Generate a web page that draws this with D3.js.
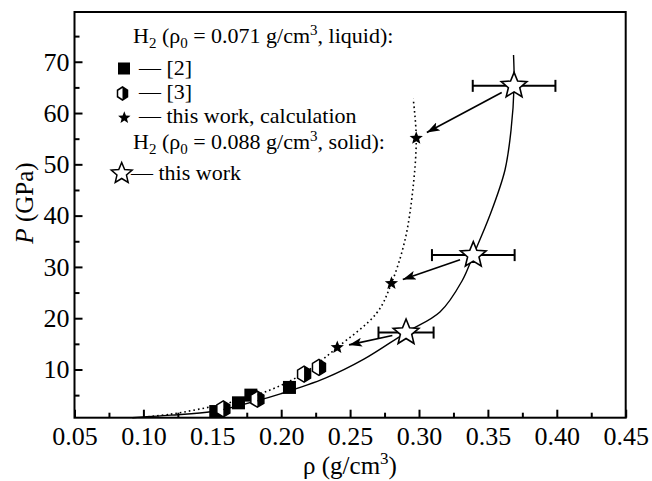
<!DOCTYPE html>
<html><head><meta charset="utf-8">
<script src="https://cdn.jsdelivr.net/npm/d3@7/dist/d3.min.js"></script>
<style>
body{margin:0;background:#fff}
svg{display:block}
text{font-family:"Liberation Serif","Times New Roman",Times,serif;fill:#000}
</style>
</head><body>
<svg id="c" width="652" height="481"></svg>
<script>
// ---- data ----
const xMajorTicks = [0.05, 0.10, 0.15, 0.20, 0.25, 0.30, 0.35, 0.40, 0.45];
const xMinorTicks = [0.075, 0.125, 0.175, 0.225, 0.275, 0.325, 0.375, 0.425];
const yMajorTicks = [10, 20, 30, 40, 50, 60, 70];
const yMinorTicks = [5, 15, 25, 35, 45, 55, 65, 75];

const ref2Rho = [0.1525, 0.169, 0.178, 0.206];
const ref2P   = [1.8, 3.5, 5.0, 6.5];
const ref3Rho = [0.158, 0.1827, 0.2166, 0.2274];
const ref3P   = [2.3, 4.2, 9.1, 10.4];
const calcRho = [0.2407, 0.280, 0.298];
const calcP   = [14.3, 26.8, 55.1];
const solidRho = [0.2906, 0.3394, 0.369];
const solidP   = [17.2, 32.3, 65.3];
const solidErr = [0.02, 0.03, 0.03];

const solidCurveRho = [0.092, 0.10, 0.12, 0.15, 0.17, 0.20, 0.232, 0.26, 0.2906, 0.3152, 0.3312, 0.3394, 0.3515, 0.3624, 0.3668, 0.369, 0.3686];
const solidCurveP   = [0.6, 0.75, 1.1, 1.8, 3.0, 5.3, 8.3, 12.0, 17.2, 21.2, 27.25, 32.3, 40.1, 48.9, 56.7, 65.3, 71.3];
const liquidCurveRho = [0.10, 0.12, 0.141, 0.165, 0.1919, 0.2166, 0.2407, 0.2693, 0.280, 0.2898, 0.2955, 0.298, 0.2958];
const liquidCurveP   = [0.7, 1.3, 2.3, 3.7, 6.0, 9.3, 14.3, 21.0, 26.8, 35.2, 45.0, 55.1, 62.8];

// ---- layout ----
const FONT = '"Liberation Serif","Times New Roman",Times,serif';
const svg = d3.select("#c");
const L = 74.5, R = 625.7, T = 12, B = 417.7;
const x = d3.scaleLinear().domain([0.05, 0.45]).range([L, R]);
const y = d3.scaleLinear().domain([0.6, 79.7]).range([B, T]);

svg.append("defs").append("marker")
  .attr("id", "ah").attr("viewBox", "0 0 13 9").attr("refX", 13).attr("refY", 4.5)
  .attr("markerWidth", 13).attr("markerHeight", 9).attr("markerUnits", "userSpaceOnUse")
  .attr("orient", "auto")
  .append("path").attr("d", "M0,0 L13,4.5 L0,9 L3,4.5 Z").attr("fill", "#000");

// axes
const xAx = svg.append("g").attr("transform", `translate(0,${B})`)
  .call(d3.axisBottom(x).tickValues(xMajorTicks).tickFormat(d3.format(".2f")).tickSize(-8).tickPadding(8.5));
const xAxMin = svg.append("g").attr("transform", `translate(0,${B})`)
  .call(d3.axisBottom(x).tickValues(xMinorTicks).tickFormat("").tickSize(-5));
const yAx = svg.append("g").attr("transform", `translate(${L},0)`)
  .call(d3.axisLeft(y).tickValues(yMajorTicks).tickFormat(d3.format("d")).tickSize(-8).tickPadding(5));
const yAxMin = svg.append("g").attr("transform", `translate(${L},0)`)
  .call(d3.axisLeft(y).tickValues(yMinorTicks).tickFormat("").tickSize(-5));
[xAx, xAxMin, yAx, yAxMin].forEach(g => {
  g.attr("font-family", FONT);
  g.select(".domain").remove();
  g.selectAll(".tick line").attr("stroke", "#000").attr("stroke-width", 2);
  g.selectAll("text").style("font-family", FONT).style("font-size", "26px").attr("fill", "#000");
});

// frame
svg.append("rect").attr("x", L).attr("y", T).attr("width", R - L).attr("height", B - T)
  .attr("fill", "none").attr("stroke", "#000").attr("stroke-width", 2);

// curves
const line = d3.line().x(d => x(d[0])).y(d => y(d[1])).curve(d3.curveCatmullRom.alpha(0.5));
svg.append("path").datum(solidCurveRho.map((r, i) => [r, solidCurveP[i]]))
  .attr("d", line).attr("fill", "none").attr("stroke", "#000").attr("stroke-width", 1.4);
svg.append("path").datum(liquidCurveRho.map((r, i) => [r, liquidCurveP[i]]))
  .attr("d", line).attr("fill", "none").attr("stroke", "#000").attr("stroke-width", 1.6)
  .attr("stroke-dasharray", "1.6,3").attr("stroke-linecap", "butt");

// symbols
function starPath(cx, cy, Ro, Ri) {
  const p = [];
  for (let k = 0; k < 10; k++) {
    const a = -Math.PI / 2 + k * Math.PI / 5, rr = k % 2 ? Ri : Ro;
    p.push([cx + rr * Math.cos(a), cy + rr * Math.sin(a)]);
  }
  return "M" + p.map(q => q.join(",")).join("L") + "Z";
}
function hexHalf(g, cx, cy, rx, ry) {
  const top = [cx, cy - ry], bot = [cx, cy + ry];
  const ul = [cx - rx, cy - ry / 2], ll = [cx - rx, cy + ry / 2];
  const ur = [cx + rx, cy - ry / 2], lr = [cx + rx, cy + ry / 2];
  const P = a => "M" + a.map(q => q.join(",")).join("L") + "Z";
  g.append("path").attr("d", P([top, ul, ll, bot])).attr("fill", "#fff");
  g.append("path").attr("d", P([top, ur, lr, bot])).attr("fill", "#000");
  g.append("path").attr("d", P([top, ur, lr, bot, ll, ul])).attr("fill", "none")
    .attr("stroke", "#000").attr("stroke-width", 1.5);
}
function square(g, cx, cy, s) {
  g.append("rect").attr("x", cx - s / 2).attr("y", cy - s / 2).attr("width", s).attr("height", s).attr("fill", "#000");
}

const gm = svg.append("g");
ref2Rho.forEach((r, i) => square(gm, x(r), y(ref2P[i]), 13));
ref3Rho.forEach((r, i) => hexHalf(gm, x(r), y(ref3P[i]), 6.5, 8));

// error bars
solidRho.forEach((r, i) => {
  const cy = y(solidP[i]), x0 = x(r - solidErr[i]), x1 = x(r + solidErr[i]);
  gm.append("line").attr("x1", x0).attr("x2", x1).attr("y1", cy).attr("y2", cy).attr("stroke", "#000").attr("stroke-width", 2);
  [x0, x1].forEach(xx => gm.append("line").attr("x1", xx).attr("x2", xx).attr("y1", cy - 6).attr("y2", cy + 6)
    .attr("stroke", "#000").attr("stroke-width", 2));
});

// arrows from solid stars to calculation stars
solidRho.forEach((r, i) => {
  const x0 = x(r), y0 = y(solidP[i]), x1 = x(calcRho[i]), y1 = y(calcP[i]);
  const dx = x1 - x0, dy = y1 - y0, d = Math.hypot(dx, dy);
  const s0 = 14, s1 = 12;
  gm.append("line").attr("x1", x0 + dx * s0 / d).attr("y1", y0 + dy * s0 / d)
    .attr("x2", x1 - dx * s1 / d).attr("y2", y1 - dy * s1 / d)
    .attr("stroke", "#000").attr("stroke-width", 1.6).attr("marker-end", "url(#ah)");
});

calcRho.forEach((r, i) => gm.append("path").attr("d", starPath(x(r), y(calcP[i]), 7, 3)).attr("fill", "#000"));
solidRho.forEach((r, i) => gm.append("path").attr("d", starPath(x(r), y(solidP[i]), 13.5, 6))
  .attr("fill", "#fff").attr("stroke", "#000").attr("stroke-width", 1.6).attr("stroke-linejoin", "miter"));

// legend
const lg = svg.append("g");
const LF = "22px", LS = "15px";
function headerText(yb, rho0, state) {
  const t = lg.append("text").attr("x", 133).attr("y", yb).style("font-size", LF).style("font-family", FONT);
  t.append("tspan").text("H");
  t.append("tspan").attr("dy", 5).style("font-size", LS).text("2");
  t.append("tspan").attr("dy", -5).text(" (ρ");
  t.append("tspan").attr("dy", 5).style("font-size", LS).text("0");
  t.append("tspan").attr("dy", -5).text(` = ${rho0} g/cm`);
  t.append("tspan").attr("dy", -8).style("font-size", LS).text("3");
  t.append("tspan").attr("dy", 8).text(`, ${state}):`);
}
function legText(xx, yy, s) {
  lg.append("text").attr("x", xx).attr("y", yy).style("font-size", LF).style("font-family", FONT).text(s);
}
headerText(43, "0.071", "liquid");
square(lg, 124, 68.5, 12);
legText(139, 75, "— [2]");
hexHalf(lg, 122.5, 93.5, 5, 6.5);
legText(139, 98.5, "— [3]");
lg.append("path").attr("d", starPath(124.3, 117.8, 6.5, 2.8)).attr("fill", "#000");
legText(139, 123, "— this work, calculation");
headerText(148.5, "0.088", "solid");
lg.append("path").attr("d", starPath(121.7, 173.5, 11, 5)).attr("fill", "#fff").attr("stroke", "#000").attr("stroke-width", 1.5);
legText(131, 179.5, "— this work");

// axis titles
const xt = svg.append("text").attr("x", 350).attr("y", 474).attr("text-anchor", "middle")
  .style("font-size", "25px").style("font-family", FONT);
xt.append("tspan").text("ρ (g/cm");
xt.append("tspan").attr("dy", -10).style("font-size", "17px").text("3");
xt.append("tspan").attr("dy", 10).text(")");
const yt = svg.append("text").attr("transform", "translate(33,203) rotate(-90)").attr("text-anchor", "middle")
  .style("font-size", "25px").style("font-family", FONT);
yt.append("tspan").style("font-style", "italic").text("P");
yt.append("tspan").text(" (GPa)");
</script>
</body></html>
